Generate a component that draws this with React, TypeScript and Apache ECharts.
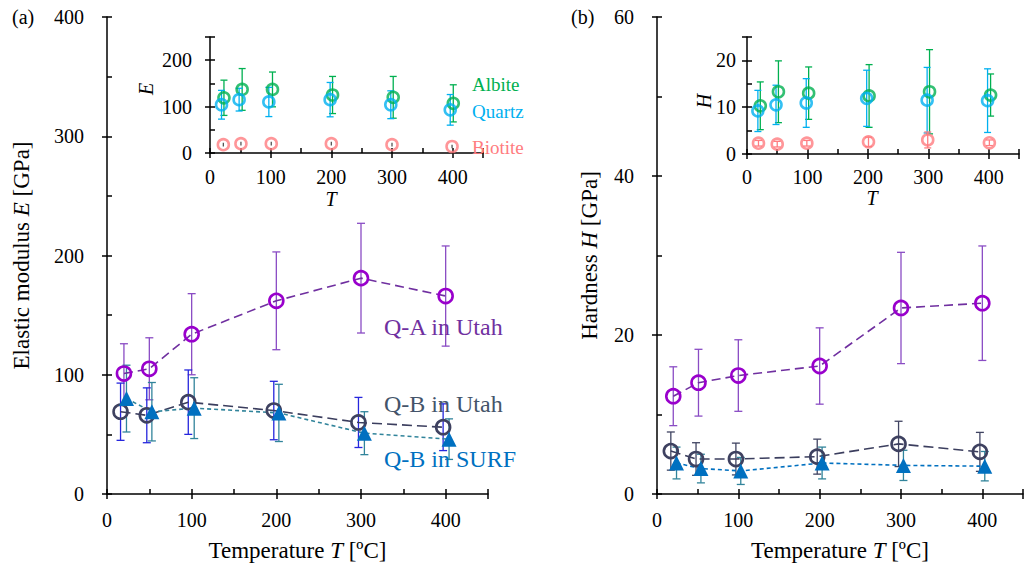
import React, { useEffect, useRef } from 'react';
import * as echarts from 'echarts';

// ---------- Data: panel (a) Elastic modulus E [GPa] ----------
const qaUtahT_E = [20, 50, 100, 200, 300, 400];
const qaUtahE = [101, 105, 134, 162, 181, 166];
const qaUtahE_err = [25, 26, 34, 41, 46, 42];

const qbUtahT_E = [16, 47, 96, 197, 297, 397];
const qbUtahE = [69, 66, 77, 70, 60, 56];
const qbUtahE_err = [24, 23, 27, 24.5, 21, 19.6];

const qbSurfT_E = [23, 53, 103, 203, 304, 404];
const qbSurfE = [80, 69, 72, 68, 51, 46];
const qbSurfE_err = [28, 24.5, 25.5, 24, 18, 17];

// inset (a)
const albiteT_E = [23, 53, 103, 202, 302, 401];
const albiteE = [119, 137, 137, 125, 120, 107];
const albiteE_err = [38, 45, 37.5, 40, 45, 40];

const quartzT_E = [19, 48, 97, 198, 298, 396];
const quartzE = [104, 115, 110, 115, 104, 93];
const quartzE_err = [31, 24.5, 31.5, 37, 30, 33];

const biotiteT_E = [22, 51, 101, 200, 300, 399];
const biotiteE = [18, 20, 20, 20, 18, 14];
const biotiteE_err = [4, 4, 4, 4, 4, 4];

// ---------- Data: panel (b) Hardness H [GPa] ----------
const qaUtahT_H = [20, 51, 100, 200, 300, 400];
const qaUtahH = [12.3, 14.0, 14.9, 16.1, 23.4, 24.0];
const qaUtahH_err = [3.7, 4.2, 4.5, 4.8, 7.0, 7.2];

const qbUtahT_H = [17, 48, 97, 197, 297, 397];
const qbUtahH = [5.4, 4.4, 4.4, 4.7, 6.3, 5.3];
const qbUtahH_err = [2.4, 2.05, 2.0, 2.2, 2.85, 2.45];

const qbSurfT_H = [24, 54, 103, 203, 303, 403];
const qbSurfH = [3.9, 3.2, 2.9, 3.9, 3.6, 3.5];
const qbSurfH_err = [2.0, 1.8, 1.7, 2.0, 1.9, 1.85];

// inset (b)
const albiteT_H = [22, 52, 102, 202, 302, 403];
const albiteH = [10.3, 13.3, 13.0, 12.4, 13.3, 12.6];
const albiteH_err = [5.1, 6.6, 5.6, 6.7, 9.0, 4.5];

const quartzT_H = [18, 48, 98, 198, 298, 398];
const quartzH = [9.2, 10.5, 10.9, 11.9, 11.5, 11.4];
const quartzH_err = [4.4, 4.2, 5.2, 6.0, 7.0, 6.8];

const biotiteT_H = [19, 50, 99, 201, 299, 401];
const biotiteH = [2.3, 2.1, 2.3, 2.6, 3.0, 2.4];
const biotiteH_err = [0.6, 0.6, 0.6, 1.0, 1.7, 0.6];

// ---------- Labels ----------
const seriesLabels = ['Q-A in Utah', 'Q-B in Utah', 'Q-B in SURF'];
const mineralLabels = ['Albite', 'Quartz', 'Biotite'];

const FONT = 'Liberation Serif';

const C = {
  qaMarker: '#9900cc',
  qaLine: '#7030a0',
  qaErr: '#8a4cc4',
  qbMarker: '#3e4160',
  qbLine: '#3b3e5e',
  qbErrA: '#2626dd',
  qbErrB: '#404462',
  surf: '#0070c0',
  surfLineA: '#31849b',
  surfErr: '#31849b',
  albite: '#00b050',
  quartz: '#00b0f0',
  biotite: '#ff7c80',
  qaText: '#7030a0',
  qbText: '#44546a',
  surfText: '#0070c0',
};

const zip = (ts: number[], vs: number[]) => ts.map((t, i) => [t, vs[i]]);

function errorBars(ax: number, ts: number[], vs: number[], es: number[], color: string, cap: number, lw = 1.3) {
  return {
    type: 'custom',
    xAxisIndex: ax,
    yAxisIndex: ax,
    silent: true,
    z: 2,
    data: ts.map((t, i) => [t, vs[i] - es[i], vs[i] + es[i]]),
    encode: { x: 0, y: [1, 2] },
    renderItem: (_p: any, api: any) => {
      const x = api.value(0);
      const lo = api.coord([x, api.value(1)]);
      const hi = api.coord([x, api.value(2)]);
      const style = { stroke: color, lineWidth: lw, fill: null };
      return {
        type: 'group',
        children: [
          { type: 'line', shape: { x1: lo[0], y1: lo[1], x2: hi[0], y2: hi[1] }, style },
          { type: 'line', shape: { x1: lo[0] - cap, y1: lo[1], x2: lo[0] + cap, y2: lo[1] }, style },
          { type: 'line', shape: { x1: hi[0] - cap, y1: hi[1], x2: hi[0] + cap, y2: hi[1] }, style },
        ],
      };
    },
  };
}

function lineSeries(ax: number, ts: number[], vs: number[], marker: string, lineColor: string, dash: number[], symbol: string, size: number, filled: boolean) {
  return {
    type: 'line',
    xAxisIndex: ax,
    yAxisIndex: ax,
    data: zip(ts, vs),
    symbol,
    symbolSize: size,
    z: 3,
    lineStyle: { color: lineColor, width: 1.6, type: dash },
    itemStyle: filled
      ? { color: marker, borderWidth: 0 }
      : { color: 'rgba(0,0,0,0)', borderColor: marker, borderWidth: 2.6 },
  };
}

function scatterSeries(ax: number, ts: number[], vs: number[], color: string, size: number) {
  return {
    type: 'scatter',
    xAxisIndex: ax,
    yAxisIndex: ax,
    data: zip(ts, vs),
    symbol: 'circle',
    symbolSize: size,
    z: 3,
    itemStyle: { color: 'rgba(0,0,0,0)', borderColor: color, borderWidth: 2.6 },
  };
}

function axisPair(grid: number, isX: boolean, min: number, max: number, major: number, minor: number, margin: number) {
  const base = {
    type: 'value',
    gridIndex: grid,
    min,
    max,
    position: isX ? 'bottom' : 'left',
    offset: 0,
    splitLine: { show: false },
  };
  return [
    {
      ...base,
      interval: major,
      axisLine: { show: true, onZero: false, lineStyle: { color: '#000', width: 1.5 } },
      axisTick: { show: true, inside: false, length: 5, lineStyle: { color: '#000', width: 1.5 } },
      axisLabel: {
        show: true,
        margin,
        fontFamily: FONT,
        fontSize: 20,
        color: '#000',
        formatter: (v: number) => (Math.abs(v % major) < 1e-9 ? String(v) : ''),
      },
    },
    {
      ...base,
      interval: minor,
      axisLine: { show: false, onZero: false },
      axisTick: { show: true, inside: true, length: 5, lineStyle: { color: '#000', width: 1.5 } },
      axisLabel: { show: false },
    },
  ];
}

function text(x: number, y: number, t: string, color: string, size = 20, opts: any = {}) {
  return {
    type: 'text',
    x,
    y,
    z: 10,
    rotation: opts.rotation || 0,
    style: {
      text: t,
      fill: color,
      fontFamily: FONT,
      fontSize: size,
      fontStyle: opts.italic ? 'italic' : 'normal',
      verticalAlign: 'middle',
      align: opts.align || 'left',
    },
  };
}

export default function App() {
  const ref = useRef<HTMLDivElement>(null);

  useEffect(() => {
    if (!ref.current) return;
    const chart = echarts.init(ref.current, undefined, { renderer: 'svg' });

    const xAxes: any[] = [
      ...axisPair(0, true, 0, 450, 100, 50, 16),
      ...axisPair(1, true, 0, 450, 100, 50, 14),
      ...axisPair(2, true, 0, 450, 100, 50, 16),
      ...axisPair(3, true, 0, 450, 100, 50, 13),
    ];
    const yAxes: any[] = [
      ...axisPair(0, false, 0, 400, 100, 50, 23),
      ...axisPair(1, false, 0, 250, 100, 50, 18),
      ...axisPair(2, false, 0, 60, 20, 10, 23),
      ...axisPair(3, false, 0, 25, 10, 5, 11),
    ];

    const nameStyle = {
      fontFamily: FONT,
      fontSize: 23,
      color: '#000',
      rich: { i: { fontFamily: FONT, fontSize: 23, fontStyle: 'italic', color: '#000' } },
    };
    for (const a of [xAxes[0], xAxes[4]]) {
      a.name = 'Temperature {i|T} [ºC]';
      a.nameLocation = 'middle';
      a.nameGap = 45;
      a.nameTextStyle = nameStyle;
    }
    yAxes[0].name = 'Elastic modulus {i|E} [GPa]';
    yAxes[0].nameLocation = 'middle';
    yAxes[0].nameGap = 74;
    yAxes[0].nameTextStyle = nameStyle;
    yAxes[4].name = 'Hardness {i|H} [GPa]';
    yAxes[4].nameLocation = 'middle';
    yAxes[4].nameGap = 56;
    yAxes[4].nameTextStyle = nameStyle;

    const option: any = {
      animation: false,
      backgroundColor: '#fff',
      grid: [
        { left: 107, top: 17, width: 381, height: 477, containLabel: false },
        { left: 210, top: 37, width: 273, height: 116, containLabel: false },
        { left: 657, top: 17, width: 380, height: 477, containLabel: false },
        { left: 747, top: 37, width: 272, height: 117, containLabel: false },
      ],
      xAxis: xAxes,
      yAxis: yAxes,
      series: [
        // panel (a) main -> axis index 0
        errorBars(0, qaUtahT_E, qaUtahE, qaUtahE_err, C.qaErr, 4),
        errorBars(0, qbUtahT_E, qbUtahE, qbUtahE_err, C.qbErrA, 4),
        errorBars(0, qbSurfT_E, qbSurfE, qbSurfE_err, C.surfErr, 4),
        lineSeries(0, qaUtahT_E, qaUtahE, C.qaMarker, C.qaLine, [9, 5], 'circle', 14, false),
        lineSeries(0, qbUtahT_E, qbUtahE, C.qbMarker, C.qbLine, [10, 5], 'circle', 14, false),
        lineSeries(0, qbSurfT_E, qbSurfE, C.surf, C.surfLineA, [4, 3], 'triangle', 15, true),
        // inset (a) -> axis index 2
        errorBars(2, albiteT_E, albiteE, albiteE_err, C.albite, 3.5),
        errorBars(2, quartzT_E, quartzE, quartzE_err, C.quartz, 3.5),
        errorBars(2, biotiteT_E, biotiteE, biotiteE_err, '#555', 0),
        scatterSeries(2, albiteT_E, albiteE, C.albite, 11),
        scatterSeries(2, quartzT_E, quartzE, C.quartz, 11),
        scatterSeries(2, biotiteT_E, biotiteE, C.biotite, 11),
        // panel (b) main -> axis index 4
        errorBars(4, qaUtahT_H, qaUtahH, qaUtahH_err, C.qaErr, 4),
        errorBars(4, qbUtahT_H, qbUtahH, qbUtahH_err, C.qbErrB, 4),
        errorBars(4, qbSurfT_H, qbSurfH, qbSurfH_err, C.surfErr, 4),
        lineSeries(4, qaUtahT_H, qaUtahH, C.qaMarker, C.qaLine, [9, 5], 'circle', 14, false),
        lineSeries(4, qbUtahT_H, qbUtahH, C.qbMarker, C.qbLine, [10, 5], 'circle', 14, false),
        lineSeries(4, qbSurfT_H, qbSurfH, C.surf, C.surf, [4, 3], 'triangle', 15, true),
        // inset (b) -> axis index 6
        errorBars(6, albiteT_H, albiteH, albiteH_err, C.albite, 3.5),
        errorBars(6, quartzT_H, quartzH, quartzH_err, C.quartz, 3.5),
        errorBars(6, biotiteT_H, biotiteH, biotiteH_err, C.biotite, 3.5),
        scatterSeries(6, albiteT_H, albiteH, C.albite, 11),
        scatterSeries(6, quartzT_H, quartzH, C.quartz, 11),
        scatterSeries(6, biotiteT_H, biotiteH, C.biotite, 11),
      ],
      graphic: [
        text(12, 17, '(a)', '#000', 20),
        text(571, 17, '(b)', '#000', 20),
        text(384, 327, seriesLabels[0], C.qaText, 24),
        text(384, 404, seriesLabels[1], C.qbText, 24),
        text(384, 459, seriesLabels[2], C.surfText, 24),
        text(472, 84, mineralLabels[0], C.albite, 19),
        text(472, 111, mineralLabels[1], C.quartz, 19),
        text(472, 147, mineralLabels[2], C.biotite, 19),
        text(146, 89, 'E', '#000', 20, { italic: true, align: 'center', rotation: Math.PI / 2 }),
        text(331, 199, 'T', '#000', 20, { italic: true, align: 'center' }),
        text(704, 101, 'H', '#000', 20, { italic: true, align: 'center', rotation: Math.PI / 2 }),
        text(872, 198, 'T', '#000', 20, { italic: true, align: 'center' }),
      ],
    };

    chart.setOption(option);
    return () => chart.dispose();
  }, []);

  return (
    <div
      ref={ref}
      style={{ position: 'fixed', left: 0, top: 0, width: 1026, height: 569, background: '#fff' }}
    />
  );
}
